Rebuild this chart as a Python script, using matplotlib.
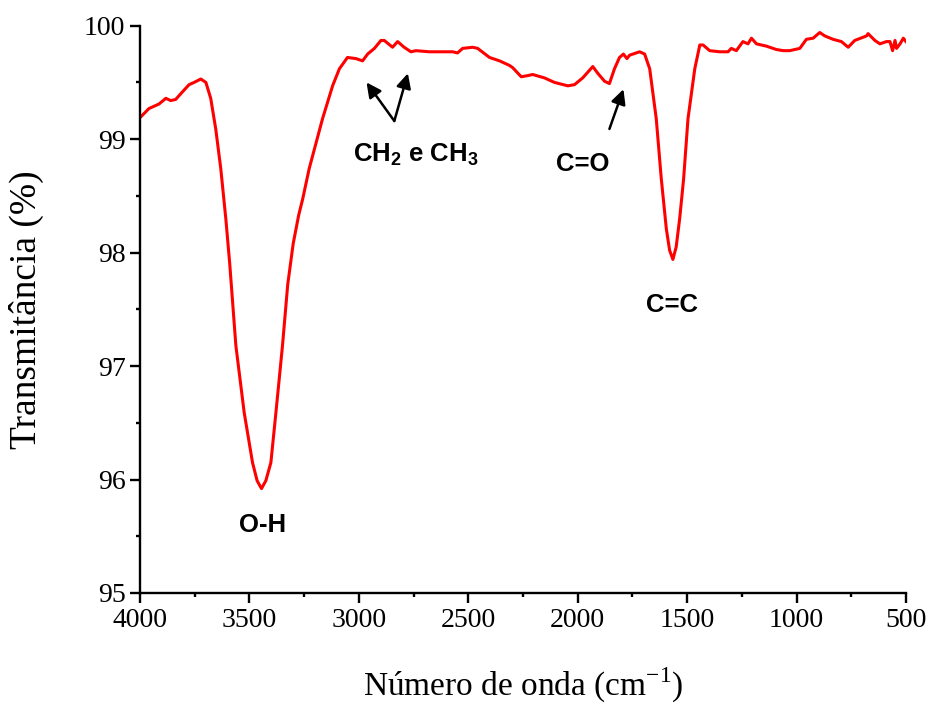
import numpy as np
import matplotlib
matplotlib.use('Agg')
import matplotlib.pyplot as plt
from matplotlib.ticker import MultipleLocator

# FTIR spectrum (wavenumber, transmittance)
wavenumber = [4000, 3959, 3913, 3882, 3860, 3837, 3814, 3776, 3753, 3722, 3699, 3677,
              3654, 3631, 3608, 3590, 3562, 3524, 3486, 3465, 3445, 3425, 3402, 3379,
              3349, 3325, 3300, 3275, 3257, 3227, 3166, 3120, 3089, 3052, 3013, 2983, 2960,
              2929, 2899, 2884, 2846, 2823, 2793, 2762, 2739, 2678, 2571, 2549, 2526,
              2480, 2457, 2403, 2357, 2312, 2297, 2258, 2228, 2206, 2152, 2106, 2045,
              2015, 1977, 1931, 1908, 1877, 1855, 1832, 1809, 1791, 1775, 1763, 1717,
              1694, 1671, 1641, 1618, 1595, 1580, 1565, 1550, 1534, 1516, 1496, 1465,
              1442, 1427, 1397, 1351, 1313, 1298, 1275, 1245, 1222, 1206, 1183, 1138,
              1092, 1061, 1031, 985, 955, 924, 894, 871, 833, 795, 764, 734,
              680, 673, 642, 619, 589, 573, 561, 550, 543, 527, 512, 500]
transmit = [99.19, 99.27, 99.31, 99.36, 99.34, 99.35, 99.40, 99.48, 99.50, 99.53, 99.50, 99.36,
            99.09, 98.74, 98.30, 97.90, 97.18, 96.59, 96.15, 95.99, 95.92, 95.99, 96.15, 96.59,
            97.18, 97.72, 98.08, 98.33, 98.47, 98.74, 99.18, 99.47, 99.62, 99.72, 99.71, 99.69, 99.75,
            99.80, 99.87, 99.87, 99.81, 99.86, 99.81, 99.77, 99.78, 99.77, 99.77, 99.76, 99.80,
            99.81, 99.80, 99.72, 99.69, 99.65, 99.63, 99.55, 99.56, 99.57, 99.54, 99.50, 99.47,
            99.48, 99.54, 99.64, 99.58, 99.51, 99.49, 99.62, 99.72, 99.75, 99.71, 99.74, 99.77,
            99.75, 99.62, 99.18, 98.65, 98.21, 98.02, 97.94, 98.05, 98.30, 98.65, 99.18, 99.62,
            99.83, 99.83, 99.78, 99.77, 99.77, 99.80, 99.78, 99.86, 99.84, 99.89, 99.84, 99.82,
            99.79, 99.78, 99.78, 99.80, 99.88, 99.89, 99.94, 99.91, 99.88, 99.86, 99.81, 99.87,
            99.91, 99.93, 99.87, 99.84, 99.86, 99.86, 99.78, 99.87, 99.80, 99.84, 99.89, 99.86]

plt.rcParams['font.family'] = ['Liberation Serif', 'DejaVu Serif']
plt.rcParams['mathtext.fontset'] = 'custom'
plt.rcParams['mathtext.rm'] = 'Liberation Serif'
plt.rcParams['mathtext.bf'] = 'Liberation Sans:bold'

fig = plt.figure(figsize=(9.31, 7.04), dpi=100)
ax = fig.add_axes([0.1504, 0.1577, 0.8227, 0.8058])

ax.plot(wavenumber, transmit, color='#ff0000', lw=2.2)

ax.set_xlim(4000, 500)
ax.set_ylim(95, 100)
ax.xaxis.set_major_locator(MultipleLocator(500))
ax.xaxis.set_minor_locator(MultipleLocator(250))
ax.yaxis.set_major_locator(MultipleLocator(1))
ax.yaxis.set_minor_locator(MultipleLocator(0.5))
for s in ['top', 'right']:
    ax.spines[s].set_visible(False)
for s in ['left', 'bottom']:
    ax.spines[s].set_linewidth(1.7)
ax.tick_params(which='major', direction='out', length=7.5, width=1.7, labelsize=20, pad=3)
ax.tick_params(which='minor', direction='out', length=3, width=1.7)

ax.set_xlabel('Número de onda (cm$^{\\mathrm{-1}}$)', fontsize=24, labelpad=24)
ax.set_ylabel('Transmitância (%)', fontsize=27, labelpad=29)

lab = dict(family=['Liberation Sans', 'DejaVu Sans'], fontweight='bold', fontsize=18.5,
           ha='center', va='center')
arr = dict(arrowstyle='-|>', color='black', lw=1.8, mutation_scale=22, shrinkA=0, shrinkB=0)

ax.text(3440, 95.60, 'O-H', **lab)
ax.text(1567, 97.54, 'C=C', **lab)
ax.text(1975, 98.78, 'C=O', **lab)
ax.text(2739, 98.86, r'CH$_{\mathbf{2}}$ e CH$_{\mathbf{3}}$', **lab)

ax.annotate('', xy=(2965, 99.50), xytext=(2838, 99.16), arrowprops=arr)
ax.annotate('', xy=(2776, 99.58), xytext=(2838, 99.16), arrowprops=arr)
ax.annotate('', xy=(1791, 99.44), xytext=(1855, 99.09), arrowprops=arr)

fig.savefig('out.png', dpi=100)
